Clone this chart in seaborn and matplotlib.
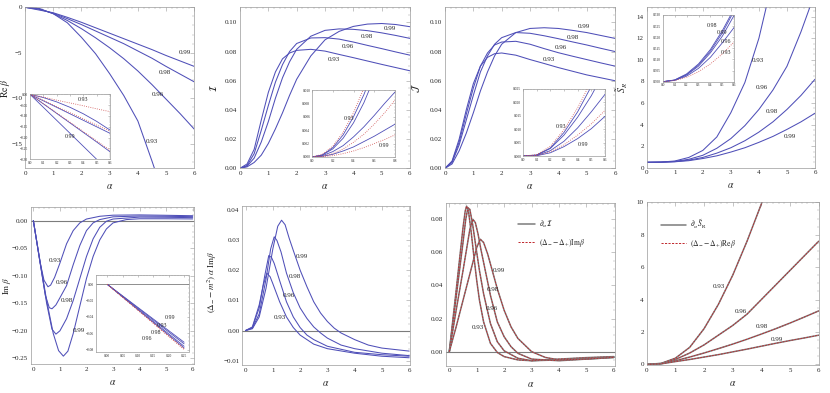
import numpy as np
import matplotlib
matplotlib.use("Agg")
import matplotlib.pyplot as plt
from matplotlib.lines import Line2D
import seaborn as sns

# ---------------- data ----------------
curve_names = ["0.93", "0.96", "0.98", "0.99"]

# panel 1: Re beta
alpha_p1 = [0, 0.5, 1, 1.5, 2, 2.5, 3, 3.5, 4, 4.5, 5, 5.5, 6]
re_beta_093 = [0, -0.13, -0.7, -1.7, -3.3, -5.1, -7.3, -9.7, -12.5, -16.9, -21.5, -26, -31]
re_beta_096 = [0, -0.15, -0.7, -1.45, -2.35, -3.35, -4.45, -5.65, -7.0, -8.5, -10.1, -11.7, -13.4]
re_beta_098 = [0, -0.22, -0.65, -1.25, -1.9, -2.6, -3.3, -4.0, -4.8, -5.6, -6.5, -7.35, -8.2]
re_beta_099 = [0, -0.3, -0.6, -1.1, -1.65, -2.25, -2.85, -3.45, -4.05, -4.65, -5.3, -5.9, -6.5]
labels_p1 = [(4.49, -14.75), (4.72, -9.62), (4.96, -7.17), (5.67, -4.98)]

inset1_alpha = [0, 0.1, 0.2, 0.3, 0.4, 0.5, 0.6]
inset1_blue = [[0, -0.015, -0.035, -0.06, -0.09, -0.125, -0.165],
               [0, -0.03, -0.06, -0.09, -0.12, -0.15, -0.18],
               [0, -0.044, -0.088, -0.132, -0.176, -0.22, -0.265],
               [0, -0.06, -0.12, -0.18, -0.24, -0.30, -0.36]]
inset1_red = [[0, -0.013, -0.027, -0.04, -0.053, -0.067, -0.08],
              [0, -0.028, -0.057, -0.085, -0.113, -0.142, -0.17],
              [0, -0.043, -0.086, -0.129, -0.172, -0.215, -0.258]]

# panel 2: I
alpha_p23 = [0, 0.25, 0.5, 0.75, 1, 1.25, 1.5, 1.75, 2, 2.5, 3, 3.5, 4, 4.5, 5, 5.5, 6]
I_093 = [0, 0.003, 0.013, 0.033, 0.052, 0.066, 0.075, 0.079, 0.0808, 0.0815, 0.0803, 0.078, 0.0758, 0.0735, 0.0712, 0.069, 0.0668]
I_096 = [0, 0.002, 0.01, 0.026, 0.043, 0.059, 0.071, 0.08, 0.0855, 0.0893, 0.0895, 0.0885, 0.0865, 0.0842, 0.082, 0.0797, 0.0775]
I_098 = [0, 0.0015, 0.007, 0.018, 0.032, 0.048, 0.062, 0.073, 0.0815, 0.0905, 0.0945, 0.0955, 0.0952, 0.0943, 0.0928, 0.091, 0.089]
I_099 = [0, 0.001, 0.004, 0.009, 0.017, 0.027, 0.038, 0.05, 0.061, 0.077, 0.088, 0.0938, 0.0972, 0.0988, 0.0992, 0.0985, 0.097]
labels_p2 = [(3.3, 0.0747), (3.82, 0.0833), (4.47, 0.0906), (5.3, 0.096)]

inset2_alpha = [0, 0.1, 0.2, 0.3, 0.4, 0.5, 0.6, 0.7, 0.8]
inset2_blue = [[0, 0.0003, 0.0014, 0.0033, 0.006, 0.0093, 0.0133, 0.018, 0.023],
               [0, 0.0003, 0.0012, 0.0028, 0.0051, 0.0081, 0.0118, 0.016, 0.021],
               [0, 0.0002, 0.0008, 0.0017, 0.003, 0.0045, 0.0062, 0.008, 0.0097],
               [0, 0.0001, 0.0004, 0.0009, 0.0015, 0.0023, 0.0031, 0.004, 0.0049]]
inset2_red = [[0, 0.0004, 0.0016, 0.0037, 0.0066, 0.0103, 0.0148, 0.02, 0.026],
              [0, 0.0001, 0.0005, 0.0012, 0.0022, 0.0034, 0.0049, 0.0066, 0.0085],
              [0, 0.00005, 0.0002, 0.0005, 0.0009, 0.0014, 0.002, 0.0026, 0.0033]]

# panel 3: J
J_093 = [0, 0.005, 0.02, 0.04, 0.058, 0.07, 0.076, 0.0785, 0.079, 0.0775, 0.0745, 0.0718, 0.069, 0.0665, 0.064, 0.062, 0.06]
J_096 = [0, 0.0045, 0.018, 0.037, 0.055, 0.07, 0.079, 0.0845, 0.0865, 0.087, 0.085, 0.082, 0.0792, 0.0768, 0.0745, 0.0722, 0.07]
J_098 = [0, 0.004, 0.016, 0.033, 0.05, 0.066, 0.077, 0.085, 0.0895, 0.093, 0.0925, 0.0908, 0.0888, 0.0866, 0.0845, 0.0822, 0.08]
J_099 = [0, 0.003, 0.012, 0.024, 0.038, 0.053, 0.066, 0.077, 0.085, 0.093, 0.0958, 0.0963, 0.0958, 0.0945, 0.093, 0.091, 0.089]
labels_p3 = [(3.65, 0.0747), (4.1, 0.083), (4.5, 0.0897), (4.9, 0.097)]

inset3_alpha = [0, 0.1, 0.2, 0.3, 0.4, 0.5, 0.6]
inset3_blue = [[0, 0.0004, 0.003, 0.0088, 0.0165, 0.026, 0.037],
               [0, 0.0003, 0.0028, 0.0078, 0.0145, 0.0225, 0.032],
               [0, 0.0002, 0.002, 0.0055, 0.0105, 0.0165, 0.023],
               [0, 0.0001, 0.0012, 0.0035, 0.0065, 0.0102, 0.0148]]
inset3_red = [[0, 0.0005, 0.0036, 0.0098, 0.018, 0.028, 0.04],
              [0, 0.0002, 0.0016, 0.0042, 0.0078, 0.012, 0.017]]

# panel 4: S_R
alpha_p4 = [0, 0.5, 1, 1.5, 2, 2.5, 3, 3.5, 4, 4.5, 5, 5.5, 6]
S_093 = [0.5, 0.52, 0.62, 0.95, 1.6, 2.85, 5.1, 7.9, 12.0, 17.5, 24, 32, 41]
S_096 = [0.5, 0.52, 0.58, 0.78, 1.15, 1.8, 2.7, 3.9, 5.4, 7.2, 9.4, 12.6, 16.2]
S_098 = [0.5, 0.51, 0.56, 0.7, 0.95, 1.35, 1.85, 2.5, 3.3, 4.25, 5.4, 6.7, 8.2]
S_099 = [0.5, 0.51, 0.55, 0.65, 0.85, 1.1, 1.45, 1.85, 2.35, 2.9, 3.55, 4.25, 5.05]
labels_p4 = [(3.98, 9.9), (4.1, 7.45), (4.45, 5.2), (5.1, 2.9)]

inset4_alpha = [0, 0.1, 0.2, 0.3, 0.4, 0.5, 0.6]
inset4_blue = [[0.5, 0.5006, 0.5025, 0.506, 0.511, 0.5175, 0.5245],
               [0.5, 0.5007, 0.503, 0.507, 0.513, 0.5205, 0.530],
               [0.5, 0.5008, 0.5035, 0.508, 0.5145, 0.523, 0.533],
               [0.5, 0.5007, 0.5032, 0.5075, 0.5138, 0.522, 0.532]]
inset4_red = [[0.5, 0.5005, 0.502, 0.5045, 0.508, 0.5125, 0.518]]
inset4_labels = [(0.53, 0.513), (0.53, 0.518), (0.416, 0.5253), (0.496, 0.5223)]

# panel 5: Im beta
im_alpha = [[0, 0.25, 0.4, 0.55, 0.65, 0.8, 1, 1.25, 1.5, 1.75, 2, 2.5, 3, 4, 5, 6],
            [0, 0.25, 0.45, 0.6, 0.7, 0.85, 1, 1.25, 1.5, 1.75, 2, 2.25, 2.5, 3, 4, 5, 6],
            [0, 0.25, 0.5, 0.7, 0.85, 1, 1.25, 1.5, 1.75, 2, 2.25, 2.5, 2.75, 3, 4, 5, 6],
            [0, 0.25, 0.5, 0.75, 0.95, 1.13, 1.3, 1.5, 1.75, 2, 2.25, 2.5, 2.75, 3, 3.5, 4, 5, 6]]
im_beta = [[0, -0.075, -0.108, -0.12, -0.117, -0.103, -0.077, -0.042, -0.018, -0.004, 0.003, 0.008, 0.010, 0.0105, 0.0098, 0.009],
           [0, -0.075, -0.135, -0.158, -0.16, -0.153, -0.14, -0.118, -0.08, -0.045, -0.018, -0.004, 0.002, 0.007, 0.0085, 0.008, 0.0073],
           [0, -0.075, -0.15, -0.197, -0.206, -0.2, -0.178, -0.145, -0.105, -0.065, -0.033, -0.012, -0.001, 0.003, 0.0065, 0.0062, 0.0055],
           [0, -0.073, -0.145, -0.205, -0.236, -0.246, -0.237, -0.205, -0.155, -0.105, -0.065, -0.035, -0.015, -0.004, 0.002, 0.0035, 0.0035, 0.0032]]
labels_p5 = [(0.82, -0.0726), (1.09, -0.112), (1.25, -0.145), (1.72, -0.2)]

inset5_alpha = [0, 0.125, 0.25]
inset5_blue = [[0, -0.0365, -0.073], [0, -0.039, -0.078], [0, -0.038, -0.076], [0, -0.0355, -0.071]]
inset5_red = [[0, -0.040, -0.080], [0, -0.0395, -0.079]]
inset5_labels = [(0.177, -0.050), (0.128, -0.066), (0.16, -0.059), (0.204, -0.0406)]

# panel 6: (Delta_- - m^2) alpha Im beta
p6_alpha = [[0, 0.25, 0.5, 0.65, 0.78, 0.9, 1, 1.25, 1.5, 1.75, 2, 2.5, 3, 4, 5, 6],
            [0, 0.25, 0.5, 0.7, 0.85, 0.95, 1.05, 1.25, 1.5, 1.75, 2, 2.25, 2.5, 3, 4, 5, 6],
            [0, 0.25, 0.5, 0.75, 0.92, 1.05, 1.15, 1.3, 1.5, 1.75, 2, 2.25, 2.5, 2.75, 3, 3.5, 4, 5, 6],
            [0, 0.25, 0.5, 0.75, 1, 1.18, 1.32, 1.45, 1.6, 1.75, 2, 2.25, 2.5, 2.75, 3, 3.25, 3.5, 4, 4.5, 5, 6]]
p6_vals = [[0, 0.0012, 0.0085, 0.015, 0.019, 0.0178, 0.0155, 0.0095, 0.0045, 0.001, -0.0015, -0.0045, -0.006, -0.0075, -0.0085, -0.009],
           [0, 0.001, 0.0075, 0.018, 0.0248, 0.0242, 0.0222, 0.0165, 0.0095, 0.0045, 0.001, -0.0015, -0.003, -0.0052, -0.0072, -0.008, -0.0085],
           [0, 0.0008, 0.0055, 0.017, 0.027, 0.031, 0.0298, 0.026, 0.019, 0.0125, 0.0075, 0.004, 0.0012, -0.0008, -0.0025, -0.0048, -0.006, -0.0075, -0.0083],
           [0, 0.0006, 0.0045, 0.014, 0.027, 0.0345, 0.0365, 0.035, 0.0305, 0.0265, 0.02, 0.0145, 0.0095, 0.0058, 0.003, 0.0008, -0.0008, -0.003, -0.0048, -0.0058, -0.0068]]
labels_p6 = [(1.26, 0.0043), (1.6, 0.0116), (1.79, 0.0179), (2.06, 0.0245)]

# panel 7: d_alpha I vs (Delta_- - Delta_+) Im beta
p7_alpha = [[0, 0.25, 0.5, 0.58, 0.63, 0.7, 0.8, 0.9, 1, 1.1, 1.25, 1.5, 1.75, 2, 2.5, 3, 4, 5, 6],
            [0, 0.25, 0.5, 0.6, 0.68, 0.75, 0.85, 1, 1.1, 1.25, 1.5, 1.75, 2, 2.5, 3, 4, 5, 6],
            [0, 0.25, 0.5, 0.75, 0.86, 0.95, 1.05, 1.15, 1.25, 1.5, 1.75, 2, 2.25, 2.5, 3, 4, 5, 6],
            [0, 0.25, 0.5, 0.75, 1, 1.13, 1.25, 1.4, 1.5, 1.75, 2, 2.25, 2.5, 3, 3.5, 4, 5, 6]]
p7_vals = [[0, 0.037, 0.075, 0.085, 0.088, 0.085, 0.072, 0.057, 0.043, 0.031, 0.018, 0.005, -0.0005, -0.003, -0.005, -0.0055, -0.0045, -0.0036, -0.003],
           [0, 0.033, 0.066, 0.08, 0.087, 0.086, 0.077, 0.06, 0.049, 0.035, 0.017, 0.006, 0.0005, -0.004, -0.0055, -0.005, -0.004, -0.0032],
           [0, 0.025, 0.049, 0.074, 0.080, 0.078, 0.071, 0.062, 0.054, 0.034, 0.018, 0.009, 0.003, -0.001, -0.0045, -0.0055, -0.0045, -0.0035],
           [0, 0.015, 0.031, 0.047, 0.063, 0.068, 0.066, 0.059, 0.053, 0.038, 0.025, 0.015, 0.008, 0.0, -0.0035, -0.005, -0.0045, -0.0035]]
labels_p7 = [(1.06, 0.0148), (1.55, 0.026), (1.6, 0.0375), (1.79, 0.049)]

# panel 8: d_alpha S_R vs (Delta_- - Delta_+) Re beta
alpha_p8 = [0, 0.5, 1, 1.5, 2, 2.5, 3, 3.5, 4, 4.5, 5, 5.5, 6]
dS_093 = [0, 0.06, 0.38, 1.05, 2.2, 3.7, 5.5, 7.6, 9.9, 12.6, 15.6, 19, 23]
dS_096 = [0, 0.05, 0.3, 0.7, 1.2, 1.8, 2.4, 3.1, 4.0, 4.9, 5.8, 6.7, 7.6]
dS_098 = [0, 0.04, 0.22, 0.45, 0.7, 0.97, 1.25, 1.55, 1.87, 2.2, 2.55, 2.92, 3.3]
dS_099 = [0, 0.03, 0.17, 0.3, 0.45, 0.6, 0.77, 0.94, 1.12, 1.3, 1.47, 1.63, 1.8]
labels_p8 = [(2.5, 4.79), (3.3, 3.25), (4.02, 2.33), (4.55, 1.56)]

# ---------------- style ----------------
sns.set_style("white")
plt.rcParams["font.family"] = ["Liberation Serif", "DejaVu Serif"]
plt.rcParams["mathtext.fontset"] = "stix"

BLUE = "#4f4fb8"
RED = "#d05050"
GRAY = "#7c7c7c"
FRAME = "#9a9a9a"
W, H = 830, 393

fig = plt.figure(figsize=(8.3, 3.93), dpi=100)


def box(l, t, r, b):
    return [l / W, 1 - b / H, (r - l) / W, (b - t) / H]


def fmt(v, d):
    s = f"{v:.{d}f}"
    if float(s) == 0:
        s = s.lstrip("-")
    return s.replace("-", "\u2212")


def frame(ax, xlim, ylim, xt, yt, xd, yd, xm, ym, fs=5.0, inset=False):
    ax.set_xlim(xlim)
    ax.set_ylim(ylim)
    ax.set_xticks(xt)
    ax.set_xticklabels([fmt(v, xd) for v in xt])
    ax.set_yticks(yt)
    ax.set_yticklabels([fmt(v, yd) for v in yt])
    ax.set_xticks([v for v in np.arange(xt[0] - 10 * xm, xt[-1] + 10 * xm, xm)
                   if xlim[0] <= v <= xlim[1]], minor=True)
    ax.set_yticks([v for v in np.arange(min(yt) - 10 * ym, max(yt) + 10 * ym, ym)
                   if ylim[0] <= v <= ylim[1]], minor=True)
    L = 1.6 if inset else 2.8
    ax.tick_params(which="major", direction="in", top=True, right=True,
                   length=L, width=0.4, color=FRAME, labelsize=fs, pad=1.2 if inset else 2)
    ax.tick_params(which="minor", direction="in", top=True, right=True,
                   length=L * 0.5, width=0.3, color=FRAME)
    for sp in ax.spines.values():
        sp.set_color(FRAME)
        sp.set_linewidth(0.5)
        if inset:
            sp.set_linestyle((0, (1, 1)))
    ax.set_facecolor("white")


def curve(ax, x, y, color=BLUE, lw=0.75, ls="-"):
    sns.lineplot(x=x, y=y, ax=ax, color=color, linewidth=lw, linestyle=ls,
                 sort=False, estimator=None, errorbar=None, legend=False)


def pair(ax, x, y):
    curve(ax, x, y, color=GRAY, lw=1.1)
    curve(ax, x, y, color="#c0282d", lw=0.6)
    ax.lines[-1].set_dashes([2.2, 1.4])


def tags(ax, pos, fs=5.0):
    for name, (x, y) in zip(curve_names, pos):
        ax.text(x, y, name, fontsize=fs, ha="center", va="center")


# ---------------- panel 1 ----------------
ax1 = fig.add_axes(box(25, 7.3, 194.3, 168.3))
for y in [re_beta_093, re_beta_096, re_beta_098, re_beta_099]:
    curve(ax1, alpha_p1, y)
frame(ax1, (0, 6), (-17.7, 0), [0, 1, 2, 3, 4, 5, 6], [0, -5, -10, -15], 0, 0, 0.2, 1)
tags(ax1, labels_p1)
ax1.set_ylabel(r"$\mathrm{Re}\;\beta$", fontsize=7)
ax1.yaxis.set_label_coords(-0.074, 0.5)

in1 = fig.add_axes(box(30, 94.3, 110, 159.3))
for y in inset1_blue:
    curve(in1, inset1_alpha, y, lw=0.6)
for y in inset1_red:
    curve(in1, inset1_alpha, y, color=RED, lw=0.6, ls=":")
frame(in1, (0, 0.6), (-0.3, 0), [0, 0.1, 0.2, 0.3, 0.4, 0.5, 0.6],
      [0, -0.05, -0.1, -0.15, -0.2, -0.25, -0.3], 1, 2, 0.02, 0.01, fs=2.6, inset=True)
in1.text(0.4, -0.023, "0.93", fontsize=4.3, ha="center", va="center")
in1.text(0.3, -0.195, "0.99", fontsize=4.3, ha="center", va="center")

# ---------------- panel 2 ----------------
ax2 = fig.add_axes(box(240, 7.3, 410, 168.3))
for y in [I_093, I_096, I_098, I_099]:
    curve(ax2, alpha_p23, y)
frame(ax2, (0, 6), (0, 0.1103), [0, 1, 2, 3, 4, 5, 6],
      [0, 0.02, 0.04, 0.06, 0.08, 0.10], 0, 2, 0.2, 0.005)
tags(ax2, labels_p2)
ax2.set_ylabel(r"$\mathcal{I}$", fontsize=7)
ax2.yaxis.set_label_coords(-0.126, 0.5)

in2 = fig.add_axes(box(312, 90, 395, 157))
for y in inset2_blue:
    curve(in2, inset2_alpha, y, lw=0.6)
for y in inset2_red:
    curve(in2, inset2_alpha, y, color=RED, lw=0.6, ls=":")
frame(in2, (0, 0.8), (0, 0.010), [0, 0.2, 0.4, 0.6, 0.8],
      [0, 0.002, 0.004, 0.006, 0.008, 0.010], 1, 3, 0.05, 0.0005, fs=2.6, inset=True)
in2.text(0.36, 0.0058, "0.93", fontsize=4.3, ha="center", va="center")
in2.text(0.69, 0.0017, "0.99", fontsize=4.3, ha="center", va="center")

# ---------------- panel 3 ----------------
ax3 = fig.add_axes(box(445, 7.3, 615, 168.3))
for y in [J_093, J_096, J_098, J_099]:
    curve(ax3, alpha_p23, y)
frame(ax3, (0, 6), (0, 0.1103), [0, 1, 2, 3, 4, 5, 6],
      [0, 0.02, 0.04, 0.06, 0.08, 0.10], 0, 2, 0.2, 0.005)
tags(ax3, labels_p3)
ax3.set_ylabel(r"$\mathcal{J}$", fontsize=7)
ax3.yaxis.set_label_coords(-0.135, 0.5)

in3 = fig.add_axes(box(523, 89, 605, 156))
for y in inset3_blue:
    curve(in3, inset3_alpha, y, lw=0.6)
for y in inset3_red:
    curve(in3, inset3_alpha, y, color=RED, lw=0.6, ls=":")
frame(in3, (0, 0.6), (0, 0.025), [0, 0.1, 0.2, 0.3, 0.4, 0.5, 0.6],
      [0, 0.005, 0.010, 0.015, 0.020, 0.025], 1, 3, 0.02, 0.001, fs=2.6, inset=True)
in3.text(0.28, 0.011, "0.93", fontsize=4.3, ha="center", va="center")
in3.text(0.44, 0.0044, "0.99", fontsize=4.3, ha="center", va="center")

# ---------------- panel 4 ----------------
ax4 = fig.add_axes(box(646.7, 7.3, 815, 167.7))
for y in [S_093, S_096, S_098, S_099]:
    curve(ax4, alpha_p4, y)
frame(ax4, (0, 6), (0, 14.87), [0, 1, 2, 3, 4, 5, 6],
      [0, 2, 4, 6, 8, 10, 12, 14], 0, 0, 0.2, 0.5)
tags(ax4, labels_p4)
ax4.set_ylabel(r"$\tilde{S}_{R}$", fontsize=7)
ax4.yaxis.set_label_coords(-0.102, 0.5)

in4 = fig.add_axes(box(662.7, 15, 734.3, 81.7))
for y in inset4_blue:
    curve(in4, inset4_alpha, y, lw=0.6)
for y in inset4_red:
    curve(in4, inset4_alpha, y, color=RED, lw=0.6, ls=":")
frame(in4, (0, 0.6), (0.5, 0.53), [0, 0.1, 0.2, 0.3, 0.4, 0.5, 0.6],
      [0.5, 0.505, 0.51, 0.515, 0.52, 0.525, 0.53], 1, 3, 0.02, 0.001, fs=2.6, inset=True)
tags(in4, inset4_labels, fs=4.3)

# ---------------- panel 5 ----------------
ax5 = fig.add_axes(box(30.7, 206.7, 194.3, 364.3))
ax5.axhline(0, color=GRAY, lw=0.8)
for x, y in zip(im_alpha, im_beta):
    curve(ax5, x, y)
frame(ax5, (-0.1, 6.06), (-0.2608, 0.0254), [0, 1, 2, 3, 4, 5, 6],
      [0, -0.05, -0.10, -0.15, -0.20, -0.25], 0, 2, 0.2, 0.01)
tags(ax5, labels_p5)
ax5.set_ylabel(r"$\mathrm{Im}\;\beta$", fontsize=6.5)
ax5.yaxis.set_label_coords(-0.108, 0.5)

in5 = fig.add_axes(box(96, 275, 189, 352))
in5.axhline(0, color=GRAY, lw=0.6)
for y in inset5_blue:
    curve(in5, inset5_alpha, y, lw=0.6)
for y in inset5_red:
    curve(in5, inset5_alpha, y, color=RED, lw=0.6, ls=":")
frame(in5, (-0.037, 0.266), (-0.083, 0.0115), [0, 0.05, 0.10, 0.15, 0.20, 0.25],
      [0, -0.02, -0.04, -0.06, -0.08], 2, 2, 0.01, 0.005, fs=2.6, inset=True)
tags(in5, inset5_labels, fs=4.3)

# ---------------- panel 6 ----------------
ax6 = fig.add_axes(box(242.3, 206, 410, 365))
ax6.axhline(0, color=GRAY, lw=0.8)
for x, y in zip(p6_alpha, p6_vals):
    curve(ax6, x, y)
frame(ax6, (-0.12, 6.03), (-0.0114, 0.0412), [0, 1, 2, 3, 4, 5, 6],
      [-0.01, 0, 0.01, 0.02, 0.03, 0.04], 0, 2, 0.2, 0.002)
tags(ax6, labels_p6)
ax6.set_ylabel(r"$(\Delta_{-}-m^2)\;\alpha\;\mathrm{Im}\beta$", fontsize=6.5)
ax6.yaxis.set_label_coords(-0.139, 0.52)

# ---------------- panel 7 ----------------
ax7 = fig.add_axes(box(446, 203.3, 615, 365.7))
ax7.axhline(0, color=GRAY, lw=0.8)
for x, y in zip(p7_alpha, p7_vals):
    pair(ax7, x, y)
frame(ax7, (-0.12, 6.04), (-0.0085, 0.0897), [0, 1, 2, 3, 4, 5, 6],
      [0, 0.02, 0.04, 0.06, 0.08], 0, 2, 0.2, 0.005)
tags(ax7, labels_p7)
h_gray = Line2D([], [], color=GRAY, lw=1.1)
h_red = Line2D([], [], color="#c0282d", lw=0.7, dashes=[2.2, 1.4])
ax7.legend([h_gray, h_red], [r"$\partial_\alpha \mathcal{I}$", r"$(\Delta_{-}-\Delta_{+})\mathrm{Im}\beta$"],
           loc="upper left", bbox_to_anchor=(0.426, 0.905), frameon=False, fontsize=5.5,
           handlelength=2.2, handletextpad=0.5, labelspacing=0.9, borderpad=0, borderaxespad=0)

# ---------------- panel 8 ----------------
ax8 = fig.add_axes(box(646.7, 202.3, 819.3, 365))
for y in [dS_093, dS_096, dS_098, dS_099]:
    pair(ax8, alpha_p8, y)
frame(ax8, (0, 6.02), (-0.04, 10), [0, 1, 2, 3, 4, 5, 6],
      [0, 2, 4, 6, 8, 10], 0, 0, 0.2, 0.5)
tags(ax8, labels_p8)
ax8.legend([h_gray, h_red], [r"$\partial_\alpha \tilde{S}_{\mathrm{R}}$", r"$(\Delta_{-}-\Delta_{+})\mathrm{Re}\beta$"],
           loc="upper left", bbox_to_anchor=(0.083, 0.905), frameon=False, fontsize=5.5,
           handlelength=3.3, handletextpad=0.5, labelspacing=0.9, borderpad=0, borderaxespad=0)

for ax in [ax1, ax2, ax3, ax4, ax5, ax6, ax7, ax8]:
    ax.set_xlabel(r"$\alpha$", fontsize=7)
    ax.xaxis.set_label_coords(0.5, -0.085)

fig.savefig("out.png", dpi=100)
